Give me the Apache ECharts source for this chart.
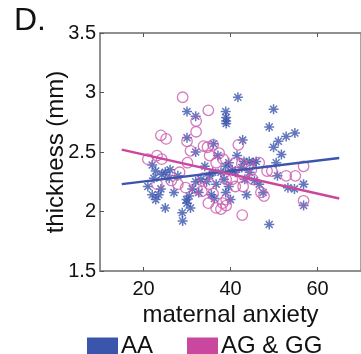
<!DOCTYPE html>
<html>
<head>
<meta charset="utf-8">
<script src="https://cdn.jsdelivr.net/npm/echarts@6/dist/echarts.min.js"></script>
<style>
  html, body { margin: 0; padding: 0; background: #fff; }
  #main { width: 361px; height: 354px; }
</style>
</head>
<body>
<div id="main"></div>
<script>
// AA genotype (asterisks): [maternal anxiety, thickness]
const aaPoints = [
  [30, 2.84], [32, 2.80], [38.9, 2.84], [39, 2.79], [39, 2.76], [39, 2.74],
  [41.7, 2.96], [49.9, 2.86], [48.9, 2.71], [49.9, 2.54], [51, 2.59], [52.8, 2.63],
  [54.8, 2.66], [42.8, 2.60], [30, 2.62], [36.1, 2.57], [32, 2.50], [22, 2.39],
  [51.7, 2.48], [50.5, 2.41], [43.1, 2.42], [44.3, 2.42], [45.2, 2.41], [45.9, 2.42],
  [50.8, 2.30], [53.2, 2.20], [54.7, 2.19], [56.8, 2.23], [56.8, 2.05], [48.9, 1.89],
  [43.7, 2.14], [47.5, 2.16], [21, 2.21], [22, 2.14], [22.8, 2.10], [23.5, 2.14],
  [24, 2.19], [25, 2.03], [24.2, 2.31], [25, 2.33], [25.9, 2.28], [27, 2.16],
  [28.9, 1.99], [29, 1.92], [29.9, 2.10], [30, 2.07], [30.8, 2.03], [30.5, 2.13],
  [31.2, 2.19], [32, 2.25], [32.7, 2.16], [33.2, 2.27], [34.1, 2.38], [34.5, 2.25],
  [35.2, 2.30], [35.9, 2.33], [35.6, 2.14], [36.7, 2.23], [37.1, 2.47], [37.8, 2.33],
  [38.5, 2.27], [38.9, 2.38], [39.6, 2.41], [40.4, 2.35], [41.1, 2.33], [39.6, 2.21],
  [38.9, 2.16], [40, 2.10], [42.6, 2.37], [43.3, 2.27], [44.4, 2.33], [45.5, 2.26],
  [46.6, 2.23], [22.4, 2.28], [22.8, 2.34], [26.1, 2.35], [27.9, 2.30], [41.5, 2.47],
  [36.3, 2.11]
];

// AG & GG genotypes (circles)
const agPoints = [
  [29, 2.96], [34.9, 2.85], [32.1, 2.76], [32.1, 2.67], [24, 2.64], [25.2, 2.61],
  [30, 2.59], [41.8, 2.56], [36, 2.56], [33.8, 2.55], [34.7, 2.54], [30.8, 2.51],
  [23.1, 2.47], [21, 2.44], [24.2, 2.44], [30.1, 2.41], [35.2, 2.47], [37.4, 2.49],
  [38.3, 2.44], [36.7, 2.41], [41.1, 2.41], [42.6, 2.40], [46.6, 2.41], [48.4, 2.34],
  [49.5, 2.34], [52.8, 2.30], [54.9, 2.30], [56.8, 2.38], [56.8, 2.09], [42.7, 1.97],
  [23.1, 2.23], [26.4, 2.26], [32.3, 2.19], [33.8, 2.28], [34.9, 2.07], [36, 2.15],
  [36.7, 2.03], [37.8, 2.02], [38.2, 2.07], [39, 2.10], [39, 2.05], [40.4, 2.27],
  [41.1, 2.21], [42.9, 2.21], [42.9, 2.31], [44.8, 2.35], [45.1, 2.27], [47, 2.16],
  [47.7, 2.13], [33.4, 2.17], [29.7, 2.20], [27.9, 2.23], [28.3, 2.33], [35.2, 2.23],
  [39, 2.27], [44.1, 2.38]
];

// fitted lines, endpoints
const aaFit = [[15, 2.23], [65, 2.45]];
const agFit = [[15, 2.52], [65, 2.11]];

const xTicks = [20, 40, 60];

const blue = '#3b55ad';
const pink = '#c9479f';
const font = 'Liberation Sans, Arial, Helvetica, sans-serif';
const star = 'path://M5,0L5,10M0,5L10,5M1.5,1.5L8.5,8.5M8.5,1.5L1.5,8.5';

const chart = echarts.init(document.getElementById('main'));
chart.setOption({
  animation: false,
  backgroundColor: '#fff',
  textStyle: { fontFamily: font },
  title: {
    text: 'D.',
    left: 9,
    top: 0,
    textStyle: { fontSize: 32, fontWeight: 'normal', color: '#111', fontFamily: font }
  },
  grid: {
    left: 100, top: 33, bottom: 83, width: 273,
    show: true, borderColor: '#888', borderWidth: 1.5
  },
  legend: {
    left: 82, top: 329,
    icon: 'rect',
    itemWidth: 31, itemHeight: 17, itemGap: 34,
    textStyle: { fontSize: 24, color: '#111', padding: [0, 0, 0, -2] },
    data: ['AA', 'AG & GG']
  },
  xAxis: [{
    type: 'value', min: 10, max: 70, position: 'bottom',
    name: 'maternal anxiety', nameLocation: 'middle', nameGap: 32,
    nameMoveOverlap: false,
    nameTextStyle: { fontSize: 24, color: '#111' },
    axisLine: { lineStyle: { color: '#888', width: 1.5 } },
    axisTick: { inside: true, length: 4, customValues: xTicks, lineStyle: { color: '#555' } },
    axisLabel: { fontSize: 20, color: '#111', margin: 8, customValues: xTicks },
    splitLine: { show: false }
  }, {
    type: 'value', min: 10, max: 70, position: 'top',
    axisLine: { lineStyle: { color: '#888', width: 1.5 } },
    axisTick: { inside: true, length: 4, customValues: xTicks, lineStyle: { color: '#555' } },
    axisLabel: { show: false },
    splitLine: { show: false }
  }],
  yAxis: {
    type: 'value', min: 1.5, max: 3.5, interval: 0.5,
    name: 'thickness (mm)', nameLocation: 'middle', nameGap: 32,
    nameMoveOverlap: false,
    nameTextStyle: { fontSize: 24, color: '#111' },
    axisLine: { show: true, lineStyle: { color: '#888', width: 1.5 } },
    axisTick: { show: true, inside: true, length: 4, lineStyle: { color: '#555' } },
    axisLabel: { fontSize: 20, color: '#111', margin: 4 },
    splitLine: { show: false }
  },
  series: [{
    name: 'aa-points', type: 'scatter', data: aaPoints,
    symbol: star, symbolSize: 10,
    itemStyle: { color: 'none', borderColor: blue, borderWidth: 1.5 }
  }, {
    name: 'ag-points', type: 'scatter', data: agPoints,
    symbol: 'circle', symbolSize: 10.5,
    itemStyle: { color: 'none', borderColor: '#cc5aae', borderWidth: 1.3 }
  }, {
    name: 'AA', type: 'line', data: aaFit, showSymbol: false, color: blue,
    lineStyle: { color: blue, width: 2.5 }
  }, {
    name: 'AG & GG', type: 'line', data: agFit, showSymbol: false, color: pink,
    lineStyle: { color: pink, width: 2.5 }
  }]
});
</script>
</body>
</html>
